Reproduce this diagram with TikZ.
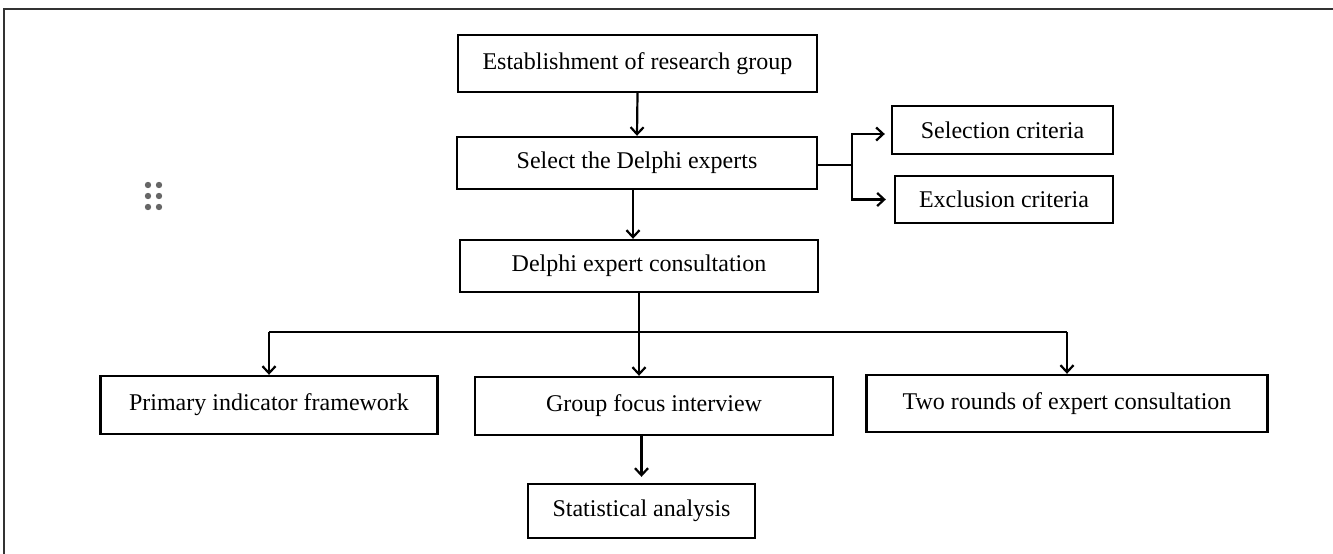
\documentclass[tikz,border=0pt]{standalone}
\usepackage{fontspec}
\setmainfont{Liberation Serif}
\usetikzlibrary{arrows.meta}
\begin{document}
\begin{tikzpicture}[x=1pt,y=-1pt,
  box/.style={draw=black,line width=2.4pt,minimum width=#1,inner sep=0pt,font=\fontsize{24}{28}\selectfont},
  arr/.style={line width=2.2pt,-{Straight Barb[length=7pt,width=13pt]}},
  ln/.style={line width=2.2pt}]
\useasboundingbox (0,0) rectangle (1333,554);
\draw[line width=2pt,black!80] (1333,9) -- (4,9) -- (4,554);
% drag handle dots
\foreach \dx in {148,159}{\foreach \dy in {185,196,207}{\fill[black!60] (\dx,\dy) circle (3.2pt);}}
\node[box=359pt,minimum height=57pt] (est) at (637.5,63.5) {Establishment of research group};
\node[box=360pt,minimum height=52pt] (sel) at (637,163) {Select the Delphi experts};
\node[box=358pt,minimum height=52pt] (con) at (639,266) {Delphi expert consultation};
\node[box=221pt,minimum height=48pt] (crit1) at (1002.5,130) {Selection criteria};
\node[box=218pt,minimum height=47pt] (crit2) at (1004,199.5) {Exclusion criteria};
\node[box=337pt,minimum height=58pt] (prim) at (269,405) {Primary indicator framework};
\node[box=358pt,minimum height=58pt] (grp) at (654,406) {Group focus interview};
\node[box=401pt,minimum height=57pt] (two) at (1067,403.5) {Two rounds of expert consultation};
\node[box=227pt,minimum height=54pt] (stat) at (641.5,511) {Statistical analysis};
\coordinate (br) at (852,165);
\coordinate (bus) at (640,332);
\draw[arr] (est.south) -- (sel.north);
\draw[arr] ([xshift=-4pt]sel.south) -- ([xshift=-4pt]sel.south |- con.north);
\draw[ln] (sel.east |- br) -- (br);
\draw[arr] (br) |- ([xshift=-6pt,yshift=-4pt]crit1.west);
\draw[arr] (br) |- ([xshift=-8pt]crit2.west);
\draw[arr] (con.south) -- (con.south |- grp.north);
\draw[ln] (bus -| prim) -- (bus -| two);
\draw[arr] (bus -| prim) -- (prim.north);
\draw[arr] (bus -| two) -- (two.north);
\draw[arr] (grp.south -| stat) -- ([yshift=6pt]stat.north);
\end{tikzpicture}
\end{document}
